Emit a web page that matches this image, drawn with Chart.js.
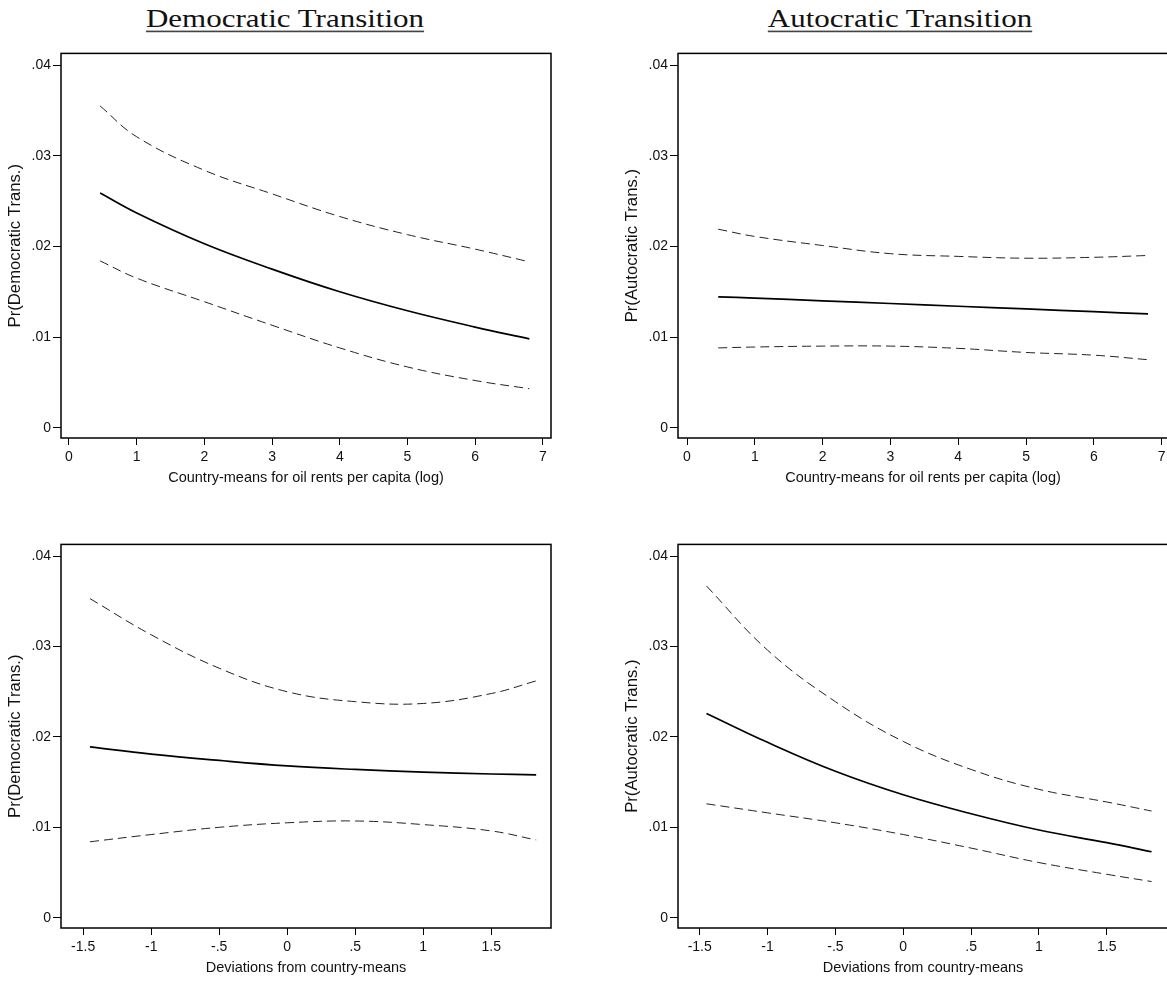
<!DOCTYPE html>
<html><head><meta charset="utf-8">
<script src="https://cdn.jsdelivr.net/npm/chart.js@4.4.1/dist/chart.umd.min.js"></script>
<style>
html,body{margin:0;padding:0;background:#fff;}
body{width:1167px;height:983px;overflow:hidden;position:relative;}
canvas.cv{position:absolute;}
.ttl{position:absolute;font-family:"Liberation Serif","Times New Roman",serif;font-size:31px;color:#111;
 text-decoration:underline;text-decoration-thickness:1.5px;text-underline-offset:4px;text-decoration-color:#444;
 white-space:nowrap;line-height:1;transform:translateX(-50%) scaleY(0.82);transform-origin:50% 0;}
</style></head><body>
<div class="ttl" style="left:285px;top:6px">Democratic Transition</div>
<div class="ttl" style="left:900px;top:6px">Autocratic Transition</div>
<canvas class="cv" id="c1" width="561" height="448" style="left:0px;top:43px;width:561px;height:448px"></canvas>
<canvas class="cv" id="c2" width="561" height="448" style="left:617px;top:43px;width:561px;height:448px"></canvas>
<canvas class="cv" id="c3" width="561" height="447" style="left:0px;top:534px;width:561px;height:447px"></canvas>
<canvas class="cv" id="c4" width="561" height="447" style="left:617px;top:534px;width:561px;height:447px"></canvas>
<script>
// ---- data ----
const meanX = [0.46, 1, 2, 3, 4, 5, 6, 6.8];
const devX  = [-1.45, -1, -0.5, 0, 0.5, 1, 1.5, 1.83];

const demMeanFit   = [0.0259, 0.0237, 0.0203, 0.0175, 0.0150, 0.0129, 0.0111, 0.0098];
const demMeanUpper = [0.0355, 0.0321, 0.0284, 0.0258, 0.0233, 0.0213, 0.0197, 0.0183];
const demMeanLower = [0.0184, 0.0165, 0.0139, 0.0113, 0.0088, 0.0067, 0.0052, 0.0043];

const autMeanFit   = [0.01444, 0.0143, 0.0140, 0.0137, 0.0134, 0.0131, 0.0128, 0.01255];
const autMeanUpper = [0.0219, 0.0211, 0.0201, 0.0192, 0.0189, 0.0187, 0.0188, 0.0190];
const autMeanLower = [0.0088, 0.0089, 0.0090, 0.0090, 0.00875, 0.0083, 0.0080, 0.0075];

const demDevFit   = [0.0189, 0.0181, 0.0174, 0.0168, 0.0164, 0.0161, 0.0159, 0.0158];
const demDevUpper = [0.0353, 0.0313, 0.0276, 0.0250, 0.0239, 0.0237, 0.0248, 0.0262];
const demDevLower = [0.0084, 0.0092, 0.0100, 0.0105, 0.0107, 0.0103, 0.0096, 0.0086];

const autDevFit   = [0.0226, 0.0194, 0.0162, 0.0136, 0.0115, 0.0097, 0.0083, 0.0073];
const autDevUpper = [0.0367, 0.0296, 0.0239, 0.0195, 0.0164, 0.0142, 0.0128, 0.0118];
const autDevLower = [0.0126, 0.0116, 0.0105, 0.0092, 0.0077, 0.0061, 0.0048, 0.0040];

const meanTicks = [0, 1, 2, 3, 4, 5, 6, 7];
const meanTickLabels = ['0', '1', '2', '3', '4', '5', '6', '7'];
const devTicks = [-1.5, -1, -0.5, 0, 0.5, 1, 1.5];
const devTickLabels = ['-1.5', '-1', '-.5', '0', '.5', '1', '1.5'];
const yTicks = [0, 0.01, 0.02, 0.03, 0.04];
const yTickLabels = ['0', '.01', '.02', '.03', '.04'];

const meanTitle = 'Country-means for oil rents per capita (log)';
const devTitle = 'Deviations from country-means';
const demYTitle = 'Pr(Democratic Trans.)';
const autYTitle = 'Pr(Autocratic Trans.)';

// ---- drawing ----
const SANS = '"Liberation Sans", Arial, Helvetica, sans-serif';

const framePlugin = {
  id: 'frame',
  afterDraw(chart) {
    const {ctx, chartArea: a} = chart;
    ctx.save();
    ctx.strokeStyle = '#000';
    ctx.lineWidth = 1.5;
    ctx.strokeRect(a.left, a.top, a.right - a.left, a.bottom - a.top);
    ctx.restore();
  }
};

function labelFor(ticks, labels, v) {
  for (let i = 0; i < ticks.length; i++) if (Math.abs(ticks[i] - v) < 1e-9) return labels[i];
  return '';
}

function pts(xs, ys) { return xs.map((x, i) => ({x: x, y: ys[i]})); }

function panel(id, xs, fit, upper, lower, xTicks, xLabels, xMin, xMax, xTitle, yTitle) {
  const dashed = {borderColor: '#222', borderWidth: 1, borderDash: [9, 5], pointRadius: 0,
                  tension: 0.4, fill: false};
  new Chart(document.getElementById(id), {
    type: 'line',
    data: {
      datasets: [
        Object.assign({data: pts(xs, upper)}, dashed),
        {data: pts(xs, fit), borderColor: '#000', borderWidth: 1.7, pointRadius: 0,
         tension: 0.4, fill: false},
        Object.assign({data: pts(xs, lower)}, dashed)
      ]
    },
    options: {
      responsive: false, devicePixelRatio: 1, animation: false,
      layout: {padding: {top: 10, right: 10, left: 0, bottom: 0}},
      plugins: {legend: {display: false}, tooltip: {enabled: false}},
      scales: {
        x: {
          type: 'linear', min: xMin, max: xMax,
          afterBuildTicks: s => { s.ticks = xTicks.map(v => ({value: v})); },
          afterFit: s => { s.height = 53; },
          ticks: {callback: v => labelFor(xTicks, xLabels, v), font: {family: SANS, size: 14},
                  color: '#111', padding: 4, maxRotation: 0, autoSkip: false},
          grid: {display: true, drawOnChartArea: false, drawTicks: true, tickLength: 7, color: '#000', lineWidth: 1},
          border: {display: false},
          title: {display: true, text: xTitle, font: {family: SANS, size: 14.5}, color: '#111',
                  padding: {top: 0, bottom: 4}}
        },
        y: {
          type: 'linear', min: -0.00114, max: 0.0413,
          afterBuildTicks: s => { s.ticks = yTicks.map(v => ({value: v})); },
          afterFit: s => { s.width = 61; },
          ticks: {callback: v => labelFor(yTicks, yTickLabels, v), font: {family: SANS, size: 14},
                  color: '#111', padding: 2, autoSkip: false},
          grid: {display: true, drawOnChartArea: false, drawTicks: true, tickLength: 8, color: '#000', lineWidth: 1},
          border: {display: false},
          title: {display: true, text: yTitle, font: {family: SANS, size: 16.7}, color: '#111',
                  padding: {top: 5, bottom: 0}}
        }
      }
    },
    plugins: [framePlugin]
  });
}

panel('c1', meanX, demMeanFit, demMeanUpper, demMeanLower, meanTicks, meanTickLabels, -0.118, 7.12, meanTitle, demYTitle);
panel('c2', meanX, autMeanFit, autMeanUpper, autMeanLower, meanTicks, meanTickLabels, -0.133, 7.094, meanTitle, autYTitle);
panel('c3', devX, demDevFit, demDevUpper, demDevLower, devTicks, devTickLabels, -1.663, 1.939, devTitle, demYTitle);
panel('c4', devX, autDevFit, autDevUpper, autDevLower, devTicks, devTickLabels, -1.66, 1.951, devTitle, autYTitle);
</script>
</body></html>
